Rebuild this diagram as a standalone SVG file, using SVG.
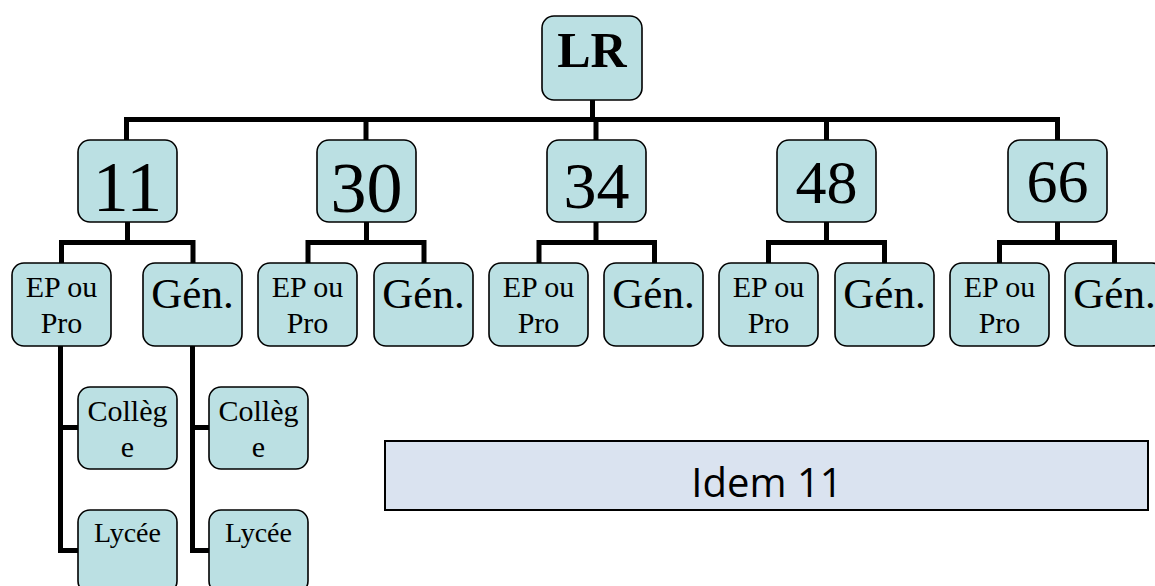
<svg xmlns="http://www.w3.org/2000/svg" width="1155" height="586" viewBox="0 0 1155 586">
<style>
.n{fill:#BBE0E3;stroke:#000;stroke-width:1.6}
.t{font-family:"Liberation Serif","Times New Roman",serif;fill:#000;text-anchor:middle}
.c{fill:none;stroke:#000;stroke-width:5;stroke-linejoin:miter;stroke-linecap:butt}
</style>
<rect width="1155" height="586" fill="#fff"/>
<g id="connectors">
<path class="c" d="M592.5 100V122"/>
<path class="c" d="M126.5 140V119.5H1057.5V140"/>
<path class="c" d="M366 119.5V140M596 119.5V140M826.5 119.5V140"/>
<path class="c" d="M127.5 222V242.5M61.5 263V242.5H193V263"/>
<path class="c" d="M366.5 222V242.5M308 263V242.5H424V263"/>
<path class="c" d="M596 222V242.5M539 263V242.5H654.5V263"/>
<path class="c" d="M826.5 222V242.5M768.5 263V242.5H884.5V263"/>
<path class="c" d="M1057.5 222V242.5M999.5 263V242.5H1114.5V263"/>
<path class="c" d="M60.5 346V550.5H78M60.5 427.5H78"/>
<path class="c" d="M192.5 346V550.5H209M192.5 427.5H209"/>
</g>
<g id="n-LR"><rect class="n" x="542" y="16" width="100" height="84" rx="12"/><text class="t" x="592" y="67" font-size="50" font-weight="bold">LR</text></g>
<g id="n-11"><rect class="n" x="78" y="140" width="99" height="82" rx="12"/><text class="t" x="127.5" y="211" font-size="72">11</text></g>
<g id="n-30"><rect class="n" x="317" y="140" width="99" height="82" rx="12"/><text class="t" x="366.5" y="212" font-size="72">30</text></g>
<g id="n-34"><rect class="n" x="547" y="140" width="99" height="82" rx="12"/><text class="t" x="596.5" y="208" font-size="66">34</text></g>
<g id="n-48"><rect class="n" x="777" y="140" width="99" height="82" rx="12"/><text class="t" x="826.5" y="203" font-size="62">48</text></g>
<g id="n-66"><rect class="n" x="1008" y="140" width="99" height="82" rx="12"/><text class="t" x="1057.5" y="202" font-size="62">66</text></g>
<g id="n-11-ep"><rect class="n" x="12" y="263" width="99" height="83" rx="12"/><text class="t" x="61.5" y="297" font-size="30">EP ou</text><text class="t" x="61.5" y="333" font-size="30">Pro</text></g>
<g id="n-11-gen"><rect class="n" x="143" y="263" width="99" height="83" rx="12"/><text class="t" x="192.5" y="308" font-size="43">Gén.</text></g>
<g id="n-30-ep"><rect class="n" x="258" y="263" width="99" height="83" rx="12"/><text class="t" x="307.5" y="297" font-size="30">EP ou</text><text class="t" x="307.5" y="333" font-size="30">Pro</text></g>
<g id="n-30-gen"><rect class="n" x="374" y="263" width="99" height="83" rx="12"/><text class="t" x="423.5" y="308" font-size="43">Gén.</text></g>
<g id="n-34-ep"><rect class="n" x="489" y="263" width="99" height="83" rx="12"/><text class="t" x="538.5" y="297" font-size="30">EP ou</text><text class="t" x="538.5" y="333" font-size="30">Pro</text></g>
<g id="n-34-gen"><rect class="n" x="604" y="263" width="99" height="83" rx="12"/><text class="t" x="653.5" y="308" font-size="43">Gén.</text></g>
<g id="n-48-ep"><rect class="n" x="719" y="263" width="99" height="83" rx="12"/><text class="t" x="768.5" y="297" font-size="30">EP ou</text><text class="t" x="768.5" y="333" font-size="30">Pro</text></g>
<g id="n-48-gen"><rect class="n" x="835" y="263" width="99" height="83" rx="12"/><text class="t" x="884.5" y="308" font-size="43">Gén.</text></g>
<g id="n-66-ep"><rect class="n" x="950" y="263" width="99" height="83" rx="12"/><text class="t" x="999.5" y="297" font-size="30">EP ou</text><text class="t" x="999.5" y="333" font-size="30">Pro</text></g>
<g id="n-66-gen"><rect class="n" x="1065" y="263" width="99" height="83" rx="12"/><text class="t" x="1114.5" y="308" font-size="43">Gén.</text></g>
<g id="n-ep-college"><rect class="n" x="78" y="387" width="99" height="82" rx="12"/><text class="t" x="127.5" y="421" font-size="30">Collèg</text><text class="t" x="127.5" y="457" font-size="30">e</text></g>
<g id="n-ep-lycee"><rect class="n" x="78" y="510" width="99" height="83" rx="12"/><text class="t" x="127.5" y="542" font-size="28">Lycée</text></g>
<g id="n-gen-college"><rect class="n" x="209" y="387" width="99" height="82" rx="12"/><text class="t" x="258.5" y="421" font-size="30">Collèg</text><text class="t" x="258.5" y="457" font-size="30">e</text></g>
<g id="n-gen-lycee"><rect class="n" x="209" y="510" width="99" height="83" rx="12"/><text class="t" x="258.5" y="542" font-size="28">Lycée</text></g>
<g id="n-idem"><rect x="385" y="441" width="763" height="69" fill="#DAE3F0" stroke="#000" stroke-width="2"/><text x="767" y="497" font-family="'Open Sans','Liberation Sans',sans-serif" font-size="40" text-anchor="middle" fill="#000">Idem 11</text></g>
</svg>
